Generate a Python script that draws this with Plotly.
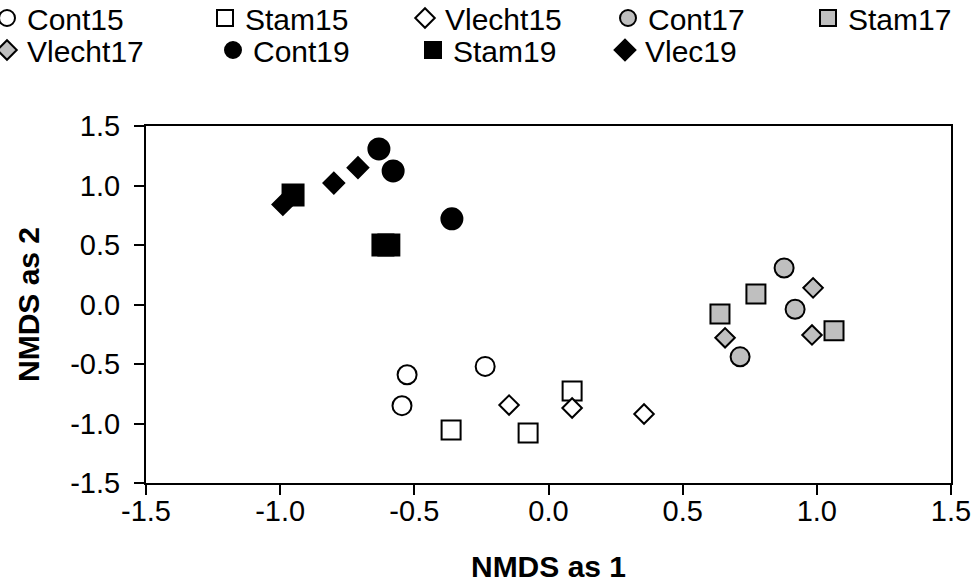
import plotly.graph_objects as go

# Data
cont15_x = [-0.527, -0.546, -0.236]
cont15_y = [-0.59, -0.85, -0.52]
stam15_x = [-0.363, -0.076, 0.088]
stam15_y = [-1.055, -1.08, -0.727]
vlecht15_x = [-0.147, 0.088, 0.356]
vlecht15_y = [-0.845, -0.87, -0.92]
cont17_x = [0.878, 0.919, 0.714]
cont17_y = [0.307, -0.04, -0.44]
stam17_x = [0.773, 0.639, 1.064]
stam17_y = [0.088, -0.08, -0.22]
vlecht17_x = [0.986, 0.658, 0.982]
vlecht17_y = [0.14, -0.28, -0.256]
cont19_x = [-0.632, -0.579, -0.36]
cont19_y = [1.307, 1.122, 0.72]
stam19_x = [-0.952, -0.617, -0.595]
stam19_y = [0.92, 0.5, 0.5]
vlec19_x = [-0.99, -0.80, -0.71]
vlec19_y = [0.84, 1.02, 1.15]

tick_vals = [-1.5, -1.0, -0.5, 0.0, 0.5, 1.0, 1.5]
tick_text = ["-1.5", "-1.0", "-0.5", "0.0", "0.5", "1.0", "1.5"]

GRAY = "#BFBFBF"
series = [
    ("Cont15", cont15_x, cont15_y, "circle", "white", 19),
    ("Stam15", stam15_x, stam15_y, "square", "white", 19),
    ("Vlecht15", vlecht15_x, vlecht15_y, "diamond", "white", 15),
    ("Cont17", cont17_x, cont17_y, "circle", GRAY, 19),
    ("Stam17", stam17_x, stam17_y, "square", GRAY, 19),
    ("Vlecht17", vlecht17_x, vlecht17_y, "diamond", GRAY, 15),
    ("Cont19", cont19_x, cont19_y, "circle", "black", 21),
    ("Stam19", stam19_x, stam19_y, "square", "black", 21),
    ("Vlec19", vlec19_x, vlec19_y, "diamond", "black", 16),
]

# legend placement (px): left edge of each entry, indentation, row centre
legend_left = [0, 205, 405, 608, 808, 0, 213, 413, 605]
legend_indent = [-13, 0, 0, 0, 0, -13, 0, 0, 0]
legend_row = [18, 18, 18, 18, 18, 50, 50, 50, 50]

W, H = 977, 583
FONT = "Liberation Sans, Arial, sans-serif"

fig = go.Figure()
layout_legends = {}
for i, (name, xs, ys, sym, fill, size) in enumerate(series):
    lname = "legend" if i == 0 else f"legend{i + 1}"
    fig.add_trace(go.Scatter(
        x=xs, y=ys, mode="markers", name=name, legend=lname,
        marker=dict(symbol=sym, color=fill, size=size,
                    line=dict(color="black", width=2)),
    ))
    layout_legends[lname] = dict(
        orientation="h", xref="container", yref="container",
        x=legend_left[i] / W, y=1 - legend_row[i] / H,
        xanchor="left", yanchor="middle",
        itemwidth=30, indentation=legend_indent[i],
        font=dict(size=30, family=FONT, color="black"),
        bgcolor="rgba(0,0,0,0)", borderwidth=0,
    )

fig.update_layout(
    width=W, height=H,
    margin=dict(l=146, r=26, t=126, b=100),
    paper_bgcolor="white", plot_bgcolor="white",
    font=dict(family=FONT, color="black", size=29),
    showlegend=True,
    **layout_legends,
    xaxis=dict(
        range=[-1.5, 1.5], tickvals=tick_vals, ticktext=tick_text,
        showgrid=False, zeroline=False, showline=True, linecolor="black",
        linewidth=2, mirror=True, ticks="outside", ticklen=10,
        tickwidth=2, tickcolor="black", tickfont=dict(size=29),
        ticklabelstandoff=-9, automargin=False,
        title=dict(text="<b>NMDS as 1</b>", font=dict(size=30), standoff=30),
    ),
    yaxis=dict(
        range=[-1.5, 1.5], tickvals=tick_vals, ticktext=tick_text,
        showgrid=False, zeroline=False, showline=True, linecolor="black",
        linewidth=2, mirror=True, ticks="outside", ticklen=10,
        tickwidth=2, tickcolor="black", tickfont=dict(size=29),
        ticklabelstandoff=8, automargin=False,
        title=dict(text="<b>NMDS as 2</b>", font=dict(size=30), standoff=22),
    ),
)

fig.write_html("out.html")
